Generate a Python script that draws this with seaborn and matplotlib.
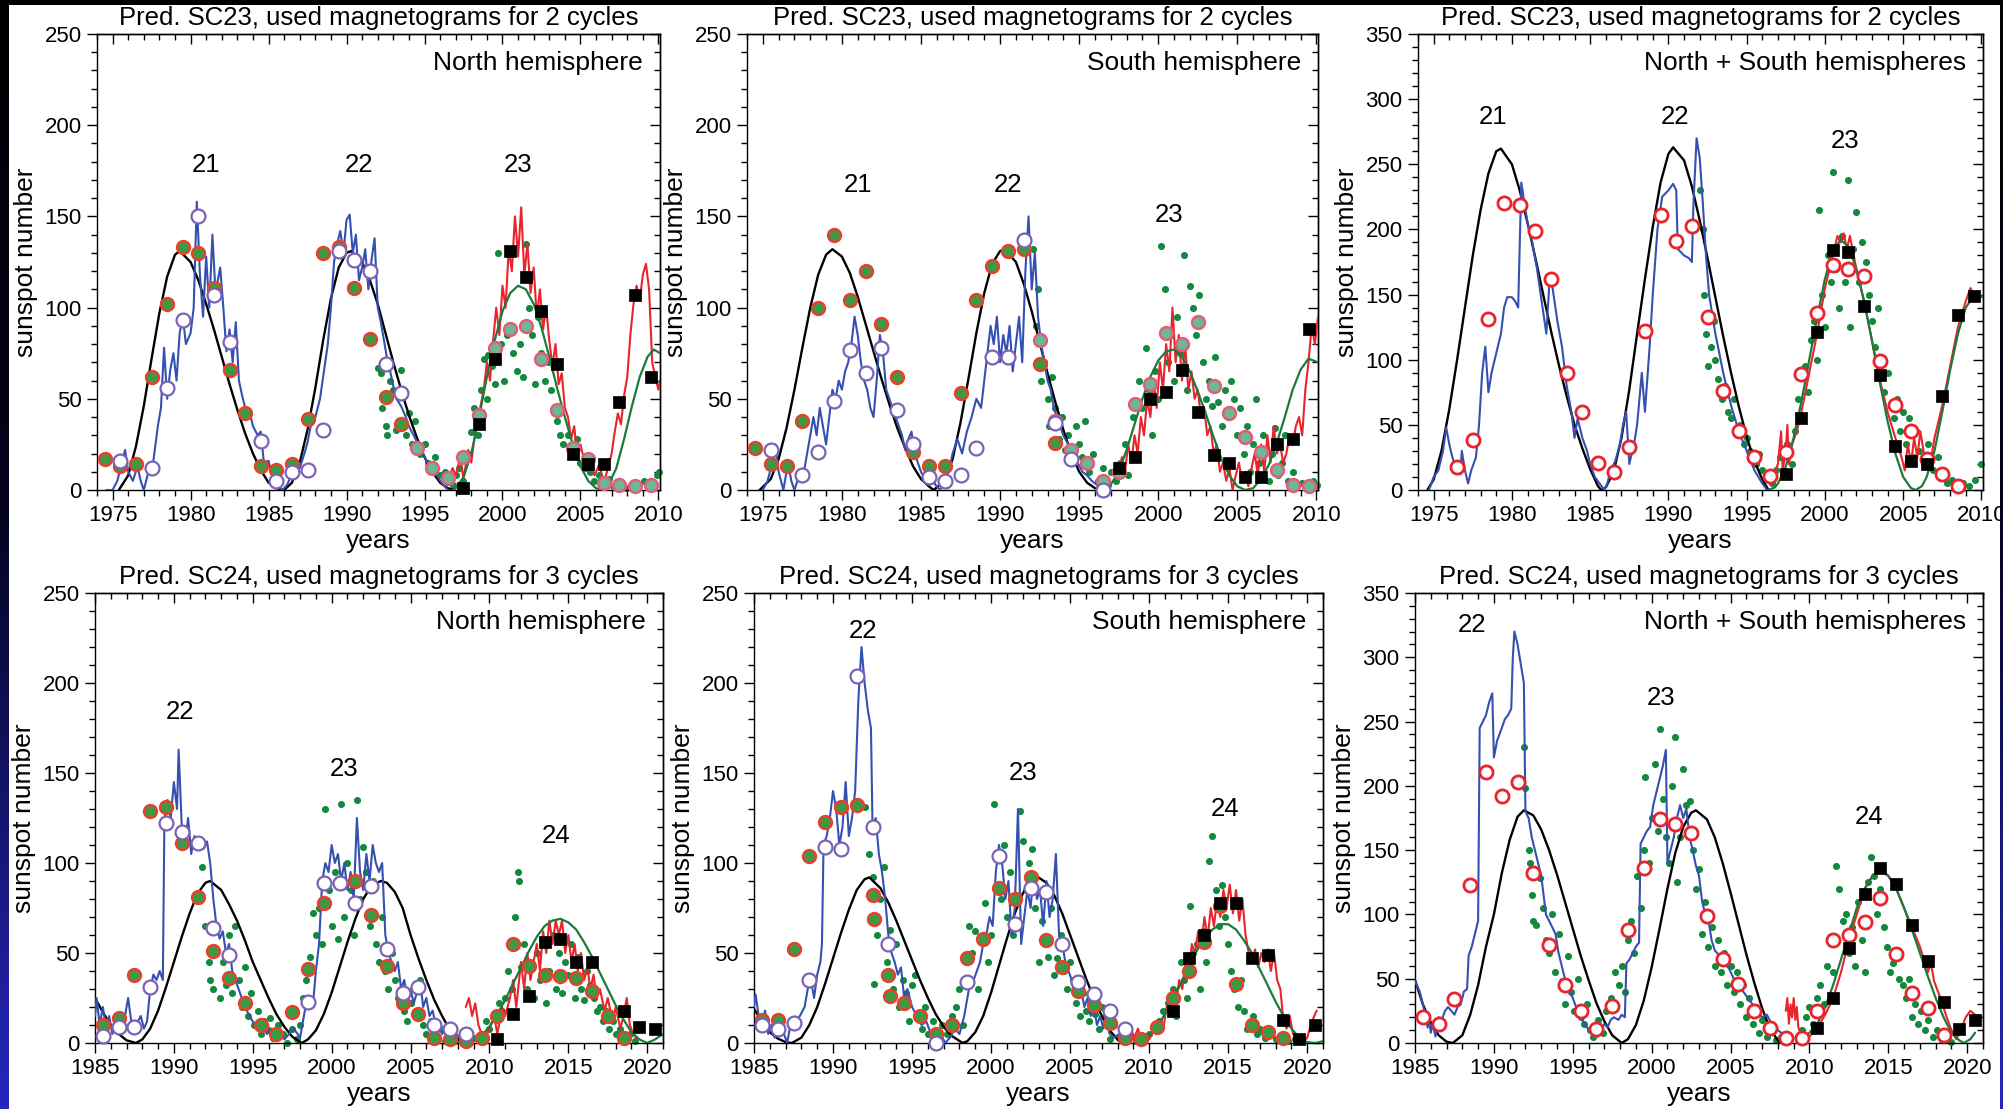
import numpy as np
import matplotlib
matplotlib.use("Agg")
import matplotlib.pyplot as plt
import seaborn as sns
from matplotlib.ticker import MultipleLocator, NullFormatter
from matplotlib.colors import LinearSegmentedColormap

# ------------------------------------------------------------------
# Panel 1: SC23 prediction, north hemisphere
# ------------------------------------------------------------------
n23_black = [(1975.4,0),(1976.0,8),(1976.5,24),(1977.0,46),(1977.5,72),(1978.0,97),(1978.5,117),(1979.0,129),(1979.3,131),
             (1980.0,125),(1980.5,115),(1981.0,102),(1981.5,88),(1982.0,73),(1982.5,58),(1983.0,44),(1983.5,31),(1984.0,20),
             (1984.5,11),(1985.0,4),(1985.5,1),(1986.0,0),(1986.5,4),(1987.0,15),(1987.5,33),(1988.0,56),(1988.5,82),
             (1989.0,105),(1989.5,122),(1990.0,130),(1990.3,131),(1991.0,125),(1991.5,115),(1992.0,102),(1992.5,86),
             (1993.0,70),(1993.5,55),(1994.0,41),(1994.5,29),(1995.0,18),(1995.5,10),(1996.0,4),(1996.5,1),(1996.9,0)]
n23_green = [(1996.8,0),(1997.0,1),(1997.5,7),(1998.0,20),(1998.5,40),(1999.0,62),(1999.5,82),(2000.0,98),(2000.5,108),
             (2001.0,112),(2001.5,110),(2002.0,102),(2002.5,89),(2003.0,73),(2003.5,56),(2004.0,40),(2004.5,25),(2005.0,13),
             (2005.5,5),(2006.0,1),(2006.3,0),(2006.8,3),(2007.3,12),(2007.8,28),(2008.3,46),(2008.8,62),(2009.3,73),
             (2009.7,77),(2010.1,75)]
n23_blue = [(1974.6,0),(1975.0,0),(1975.3,5),(1975.6,15),(1975.8,22),(1976.0,10),(1976.3,5),(1976.6,13),(1976.8,5),(1977.0,0),
            (1977.3,10),(1977.6,15),(1977.9,35),(1978.1,45),(1978.3,78),(1978.5,50),(1978.7,66),(1978.9,75),(1979.1,60),
            (1979.3,86),(1979.5,95),(1979.7,80),(1980.0,86),(1980.2,100),(1980.4,158),(1980.6,118),(1980.8,95),(1981.0,128),
            (1981.2,100),(1981.4,140),(1981.6,108),(1981.9,122),(1982.1,100),(1982.3,76),(1982.5,88),(1982.7,70),(1982.9,92),
            (1983.1,60),(1983.3,52),(1983.5,45),(1983.8,42),(1984.0,35),(1984.3,30),(1984.5,32),(1984.7,15),(1985.0,16),
            (1985.3,5),(1985.6,2),(1985.9,0),(1986.2,3),(1986.5,9),(1986.8,15),(1987.0,12),(1987.3,20),(1987.5,26),
            (1987.7,35),(1988.0,40),(1988.3,50),(1988.5,62),(1988.8,80),(1989.0,100),(1989.2,125),(1989.4,135),(1989.6,142),
            (1989.8,130),(1990.0,148),(1990.2,151),(1990.4,130),(1990.6,140),(1990.8,115),(1991.0,122),(1991.2,132),
            (1991.4,110),(1991.6,126),(1991.8,138),(1992.0,100),(1992.2,92),(1992.4,82),(1992.6,72),(1992.8,65),(1993.0,57),
            (1993.2,50),(1993.5,46),(1993.8,40),(1994.0,35),(1994.3,30),(1994.6,25),(1994.9,20),(1995.2,15),(1995.5,10),
            (1995.8,8),(1996.0,5),(1996.3,2),(1996.5,0)]
n23_red = [(1996.5,5),(1996.8,12),(1997.0,8),(1997.3,18),(1997.5,6),(1997.8,22),(1998.0,15),(1998.3,35),(1998.5,42),
           (1998.8,55),(1999.0,70),(1999.2,60),(1999.4,82),(1999.6,100),(1999.8,85),(2000.0,112),(2000.2,100),(2000.4,132),
           (2000.6,120),(2000.8,150),(2001.0,128),(2001.2,155),(2001.4,118),(2001.6,135),(2001.8,108),(2002.0,122),
           (2002.2,95),(2002.4,110),(2002.6,88),(2002.8,100),(2003.0,82),(2003.2,68),(2003.4,80),(2003.6,58),(2003.8,64),
           (2004.0,45),(2004.2,40),(2004.4,28),(2004.6,35),(2004.8,18),(2005.0,25),(2005.3,14),(2005.6,18),(2005.9,8),
           (2006.2,14),(2006.5,4),(2006.7,10),(2007.0,20),(2007.2,32),(2007.4,42),(2007.6,36),(2007.8,52),(2008.0,62),
           (2008.2,85),(2008.4,102),(2008.6,112),(2008.8,104),(2009.0,118),(2009.2,124),(2009.4,110),(2009.6,70),
           (2009.8,62),(2010.0,55),(2010.1,60)]
n23_dots = [(1992.0,67),(1992.2,64),(1992.3,45),(1992.5,35),(1992.6,30),(1992.8,60),(1993.0,55),(1993.2,33),(1993.5,66),
            (1993.8,30),(1994.0,42),(1994.2,25),(1994.4,38),(1994.7,20),(1995.0,25),(1995.2,15),(1995.5,12),(1995.7,18),
            (1996.0,8),(1996.3,10),(1996.5,5),(1996.8,3),(1997.0,8),(1997.2,12),(1997.5,5),(1997.8,20),(1998.0,32),
            (1998.2,45),(1998.4,30),(1998.6,55),(1998.8,72),(1999.0,50),(1999.1,74),(1999.3,68),(1999.5,58),(1999.7,130),
            (1999.9,80),(2000.1,60),(2000.3,85),(2000.5,90),(2000.7,75),(2000.9,65),(2001.1,80),(2001.3,62),(2001.5,135),
            (2001.7,100),(2001.9,85),(2002.1,58),(2002.3,95),(2002.5,75),(2002.7,60),(2002.9,70),(2003.1,55),(2003.3,45),
            (2003.5,38),(2003.7,30),(2003.9,25),(2004.2,30),(2004.5,20),(2004.8,28),(2005.0,15),(2005.3,12),(2005.6,10),
            (2005.9,5),(2006.2,8),(2006.5,3),(2006.8,6),(2007.1,2),(2007.5,4),(2007.9,1),(2008.3,3),(2008.7,2),(2009.1,5),
            (2009.5,3),(2009.9,8),(2010.05,10)]
n23_filled = [(1974.5,17),(1975.5,13),(1976.5,14),(1977.5,62),(1978.5,102),(1979.5,133),(1980.5,130),(1981.5,111),
              (1982.5,66),(1983.5,42),(1984.5,13),(1985.5,11),(1986.5,14),(1987.5,39),(1988.5,130),(1989.5,133),
              (1990.5,111),(1991.5,83),(1992.5,51),(1993.5,36)]
n23_pale = [(1994.5,23),(1995.5,12),(1996.5,6.5),(1997.5,18),(1998.5,41),(1999.5,78),(2000.5,88),(2001.5,90),(2002.5,72),
            (2003.5,44),(2004.5,23),(2005.5,17),(2006.5,4),(2007.5,2.5),(2008.5,2),(2009.5,2.5)]
n23_open = [(1975.5,16),(1977.5,12),(1978.5,56),(1979.5,93),(1980.5,150),(1981.5,107),(1982.5,81),(1984.5,27),(1985.5,5),
            (1986.5,10),(1987.5,11),(1988.5,33),(1989.5,131),(1990.5,126),(1991.5,120),(1992.5,69),(1993.5,53)]
n23_squares = [(1997.5,1),(1998.5,36),(1999.5,72),(2000.5,131),(2001.5,117),(2002.5,98),(2003.5,69),(2004.5,20),
               (2005.5,14),(2006.5,14),(2007.5,48),(2008.5,107),(2009.5,62)]
n23_cycles = [("21", 1981.0, 178), ("22", 1990.8, 178), ("23", 2001.0, 178)]

# ------------------------------------------------------------------
# Panel 2: SC23 prediction, south hemisphere
# ------------------------------------------------------------------
s23_black = [(1974.8,0),(1975.5,6),(1976.0,17),(1976.5,34),(1977.0,55),(1977.5,78),(1978.0,100),(1978.5,118),(1979.0,129),
             (1979.4,132),(1980.0,128),(1980.5,119),(1981.0,106),(1981.5,91),(1982.0,76),(1982.5,61),(1983.0,47),
             (1983.5,34),(1984.0,23),(1984.5,13),(1985.0,6),(1985.5,2),(1985.8,0),(1986.5,5),(1987.0,17),(1987.5,37),
             (1988.0,61),(1988.5,86),(1989.0,108),(1989.5,124),(1990.0,131),(1990.3,132),(1991.0,125),(1991.5,113),
             (1992.0,98),(1992.5,81),(1993.0,64),(1993.5,48),(1994.0,33),(1994.5,20),(1995.0,10),(1995.5,4),(1996.0,1),
             (1996.4,0)]
s23_green = [(1996.4,0),(1996.8,1),(1997.0,3),(1997.5,10),(1998.0,22),(1998.5,36),(1999.0,50),(1999.5,62),(2000.0,71),
             (2000.5,76),(2001.0,77),(2001.5,73),(2002.0,65),(2002.5,54),(2003.0,42),(2003.5,29),(2004.0,17),(2004.5,8),
             (2005.0,2),(2005.5,0),(2006.0,1),(2006.5,6),(2007.0,14),(2007.5,26),(2008.0,40),(2008.5,55),(2009.0,66),
             (2009.5,72),(2010.1,70)]
s23_blue = [(1975.0,0),(1975.3,5),(1975.6,15),(1975.8,25),(1976.0,10),(1976.3,0),(1976.6,15),(1976.8,5),(1977.0,0),
            (1977.3,8),(1977.6,10),(1977.9,25),(1978.2,40),(1978.4,30),(1978.6,45),(1978.8,35),(1979.0,25),(1979.2,40),
            (1979.4,55),(1979.6,50),(1979.8,60),(1980.0,55),(1980.2,65),(1980.4,70),(1980.6,80),(1980.8,95),(1981.0,85),
            (1981.2,70),(1981.4,60),(1981.6,55),(1981.8,45),(1982.0,40),(1982.2,60),(1982.4,85),(1982.6,75),(1982.8,55),
            (1983.0,50),(1983.2,45),(1983.4,40),(1983.6,35),(1983.8,30),(1984.0,22),(1984.2,28),(1984.4,32),(1984.6,20),
            (1984.8,15),(1985.0,10),(1985.3,5),(1985.6,12),(1985.9,3),(1986.2,0),(1986.5,5),(1986.8,12),(1987.0,20),
            (1987.3,28),(1987.6,20),(1987.9,32),(1988.2,40),(1988.5,50),(1988.8,45),(1989.0,60),(1989.2,75),(1989.4,90),
            (1989.6,80),(1989.8,95),(1990.0,70),(1990.2,85),(1990.4,75),(1990.6,90),(1990.8,65),(1991.0,80),(1991.2,95),
            (1991.4,70),(1991.6,120),(1991.8,150),(1992.0,110),(1992.2,130),(1992.4,95),(1992.6,80),(1992.8,70),
            (1993.0,60),(1993.2,55),(1993.4,45),(1993.6,40),(1993.8,35),(1994.0,30),(1994.3,25),(1994.6,20),(1994.9,15),
            (1995.2,10),(1995.5,8),(1995.8,5),(1996.1,3),(1996.4,0)]
s23_red = [(1997.3,15),(1997.5,8),(1997.7,18),(1997.9,10),(1998.1,25),(1998.3,15),(1998.5,30),(1998.7,20),(1998.9,40),
           (1999.1,30),(1999.3,50),(1999.5,40),(1999.7,60),(1999.9,45),(2000.1,70),(2000.3,55),(2000.5,80),(2000.7,65),
           (2000.9,100),(2001.1,70),(2001.3,85),(2001.5,60),(2001.7,80),(2001.9,55),(2002.1,65),(2002.3,50),(2002.5,55),
           (2002.7,40),(2002.9,45),(2003.1,30),(2003.3,35),(2003.5,20),(2003.7,25),(2003.9,10),(2004.1,15),(2004.3,5),
           (2004.5,12),(2004.7,0),(2004.9,8),(2005.1,15),(2005.3,5),(2005.5,10),(2005.7,2),(2005.9,12),(2006.1,20),
           (2006.3,8),(2006.5,25),(2006.7,10),(2006.9,30),(2007.1,15),(2007.3,35),(2007.5,20),(2007.7,25),(2007.9,15),
           (2008.1,20),(2008.3,30),(2008.5,25),(2008.7,35),(2008.9,40),(2009.1,30),(2009.3,55),(2009.5,70),(2009.7,90),
           (2009.9,80),(2010.1,95)]
s23_dots = [(1992.1,132),(1992.3,90),(1992.4,110),(1992.6,60),(1992.8,70),(1993.0,50),(1993.1,35),(1993.3,62),(1993.5,45),
            (1993.7,28),(1993.9,40),(1994.1,22),(1994.3,30),(1994.5,15),(1994.8,35),(1995.0,25),(1995.2,18),(1995.4,38),
            (1995.6,10),(1995.9,20),(1996.2,5),(1996.5,12),(1996.8,3),(1997.0,10),(1997.3,5),(1997.6,15),(1997.9,25),
            (1998.1,8),(1998.4,40),(1998.6,20),(1998.8,60),(1999.0,45),(1999.2,78),(1999.4,55),(1999.6,30),(1999.8,65),
            (2000.0,50),(2000.2,134),(2000.4,110),(2000.6,70),(2000.8,85),(2001.0,60),(2001.2,95),(2001.4,75),(2001.6,129),
            (2001.8,55),(2002.0,112),(2002.2,100),(2002.4,85),(2002.6,107),(2002.8,70),(2003.0,50),(2003.2,60),(2003.4,46),
            (2003.6,73),(2003.8,48),(2004.0,35),(2004.2,55),(2004.4,40),(2004.6,60),(2004.8,50),(2005.0,30),(2005.2,45),
            (2005.4,20),(2005.6,35),(2005.8,10),(2006.0,25),(2006.2,50),(2006.4,15),(2006.6,30),(2006.8,22),(2007.0,5),
            (2007.2,20),(2007.4,34),(2007.6,8),(2007.8,15),(2008.0,30),(2008.2,5),(2008.5,10),(2008.8,2),(2009.1,4),
            (2009.4,1),(2009.8,5),(2010.05,3)]
s23_filled = [(1974.5,23),(1975.5,14),(1976.5,13),(1977.5,38),(1978.5,100),(1979.5,140),(1980.5,104),(1981.5,120),
              (1982.5,91),(1983.5,62),(1984.5,21),(1985.5,13),(1986.5,13),(1987.5,53),(1988.5,104),(1989.5,123),
              (1990.5,131),(1991.5,132),(1992.5,69),(1993.5,26)]
s23_pale = [(1992.5,82),(1993.5,38),(1994.5,22),(1995.5,15),(1996.5,5),(1997.5,10),(1998.5,47),(1999.5,58),(2000.5,86),
            (2001.5,80),(2002.5,92),(2003.5,57),(2004.5,42),(2005.5,29),(2006.5,21),(2007.5,11),(2008.5,3),(2009.5,2)]
s23_open = [(1975.5,22),(1977.5,8),(1978.5,21),(1979.5,49),(1980.5,77),(1981.5,64),(1982.5,78),(1983.5,44),(1984.5,25),
            (1985.5,7),(1986.5,5),(1987.5,8),(1988.5,23),(1989.5,73),(1990.5,73),(1991.5,137),(1993.5,37),(1994.5,17),
            (1996.5,0)]
s23_squares = [(1997.5,12),(1998.5,18),(1999.5,50),(2000.5,54),(2001.5,66),(2002.5,43),(2003.5,19),(2004.5,15),
               (2005.5,7),(2006.5,7),(2007.5,25),(2008.5,28),(2009.5,88)]
s23_cycles = [("21", 1981.0, 167), ("22", 1990.5, 167), ("23", 2000.7, 151)]

# ------------------------------------------------------------------
# Panel 3: SC23 prediction, both hemispheres
# ------------------------------------------------------------------
ns23_black = [(1974.6,0),(1975.0,8),(1975.5,30),(1976.0,62),(1976.5,100),(1977.0,140),(1977.5,180),(1978.0,215),
              (1978.5,243),(1979.0,260),(1979.3,262),(1980.0,250),(1980.5,230),(1981.0,205),(1981.5,178),(1982.0,150),
              (1982.5,122),(1983.0,96),(1983.5,72),(1984.0,50),(1984.5,32),(1985.0,16),(1985.5,3),(1985.7,0),(1986.0,2),
              (1986.5,14),(1987.0,40),(1987.5,77),(1988.0,120),(1988.5,162),(1989.0,202),(1989.5,236),(1990.0,258),
              (1990.3,263),(1991.0,253),(1991.5,233),(1992.0,207),(1992.5,178),(1993.0,148),(1993.5,118),(1994.0,90),
              (1994.5,64),(1995.0,41),(1995.5,22),(1996.0,8),(1996.4,0)]
ns23_green = [(1996.4,0),(1996.8,2),(1997.0,5),(1997.5,18),(1998.0,40),(1998.5,68),(1999.0,100),(1999.5,132),(2000.0,162),
              (2000.5,183),(2001.0,192),(2001.5,187),(2002.0,170),(2002.5,145),(2003.0,115),(2003.5,83),(2004.0,53),
              (2004.5,28),(2005.0,10),(2005.5,1.5),(2005.8,0),(2006.2,3),(2006.5,10),(2007.0,30),(2007.5,60),(2008.0,92),
              (2008.5,120),(2009.0,140),(2009.5,149),(2010.1,148)]
ns23_blue = [(1974.7,0),(1975.0,10),(1975.3,15),(1975.6,30),(1975.8,48),(1976.0,35),(1976.2,25),(1976.5,15),(1976.7,12),
             (1976.8,30),(1977.0,15),(1977.2,5),(1977.4,15),(1977.7,25),(1977.9,50),(1978.1,90),(1978.3,110),(1978.5,75),
             (1978.7,90),(1978.9,100),(1979.1,110),(1979.3,120),(1979.5,140),(1979.7,148),(1980.0,148),(1980.2,145),
             (1980.4,140),(1980.6,236),(1980.8,220),(1981.0,205),(1981.3,190),(1981.6,170),(1981.9,145),(1982.2,120),
             (1982.4,160),(1982.6,155),(1982.9,130),(1983.2,110),(1983.5,80),(1983.8,60),(1984.0,40),(1984.2,55),
             (1984.5,40),(1984.8,30),(1985.0,20),(1985.3,10),(1985.6,5),(1985.9,0),(1986.1,5),(1986.3,15),(1986.6,22),
             (1986.9,35),(1987.1,50),(1987.3,60),(1987.5,20),(1987.8,35),(1988.0,50),(1988.3,90),(1988.5,60),(1988.8,110),
             (1989.0,150),(1989.3,200),(1989.6,225),(1990.0,230),(1990.3,235),(1990.5,230),(1990.6,185),(1991.0,180),
             (1991.3,178),(1991.5,175),(1991.6,220),(1991.8,270),(1992.0,255),(1992.2,220),(1992.4,180),(1992.6,150),
             (1993.0,120),(1993.5,90),(1994.0,65),(1994.5,45),(1995.0,30),(1995.5,15),(1996.0,5),(1996.3,0)]
ns23_red = [(1996.5,5),(1997.0,20),(1997.2,45),(1997.3,15),(1997.5,30),(1997.6,50),(1997.7,20),(1997.9,35),(1998.2,45),
            (1998.5,60),(1999.0,90),(1999.5,120),(2000.0,155),(2000.5,180),(2000.8,195),(2001.0,190),(2001.2,197),
            (2001.4,185),(2001.6,195),(2002.0,170),(2002.5,145),(2003.0,115),(2003.5,85),(2004.0,60),(2004.5,40),
            (2004.9,25),(2005.1,15),(2005.3,35),(2005.5,20),(2005.7,40),(2005.9,25),(2006.1,45),(2006.3,30),(2006.5,20),
            (2006.8,25),(2007.0,40),(2007.5,65),(2008.0,95),(2008.5,125),(2009.0,145),(2009.3,155),(2009.5,150),
            (2009.8,150),(2010.1,148)]
ns23_dots = [(1992.0,230),(1992.2,200),(1992.3,150),(1992.4,120),(1992.5,95),(1992.7,110),(1992.9,130),(1993.0,100),
             (1993.2,85),(1993.4,70),(1993.6,80),(1993.8,60),(1994.0,55),(1994.2,70),(1994.4,45),(1994.6,50),(1994.8,35),
             (1995.0,40),(1995.2,30),(1995.4,25),(1995.6,20),(1995.8,28),(1996.0,15),(1996.3,10),(1996.6,5),(1996.9,15),
             (1997.1,25),(1997.3,12),(1997.6,35),(1997.9,20),(1998.1,45),(1998.3,70),(1998.5,55),(1998.7,95),(1998.9,75),
             (1999.1,115),(1999.3,130),(1999.5,100),(1999.6,215),(1999.8,150),(2000.0,125),(2000.2,180),(2000.4,160),
             (2000.5,244),(2000.7,170),(2000.9,140),(2001.1,195),(2001.3,160),(2001.5,238),(2001.6,125),(2001.8,185),
             (2002.0,213),(2002.2,160),(2002.4,190),(2002.6,175),(2002.8,150),(2003.0,130),(2003.2,110),(2003.4,140),
             (2003.6,100),(2003.8,75),(2004.0,90),(2004.2,65),(2004.4,55),(2004.6,70),(2004.8,45),(2005.0,60),(2005.2,35),
             (2005.4,55),(2005.6,25),(2005.8,45),(2006.0,30),(2006.3,20),(2006.6,35),(2006.9,15),(2007.2,25),(2007.5,10),
             (2007.8,5),(2008.1,8),(2008.4,2),(2008.8,5),(2009.2,3),(2009.6,8),(2010.0,20)]
ns23_open = [(1976.5,18),(1977.5,38),(1978.5,131),(1979.5,220),(1980.5,219),(1981.5,199),(1982.5,162),(1983.5,90),
             (1984.5,60),(1985.5,21),(1986.5,14),(1987.5,33),(1988.5,122),(1989.5,211),(1990.5,191),(1991.5,203),
             (1992.5,133),(1993.5,76),(1994.5,45),(1995.5,25),(1996.5,11),(1997.5,29),(1998.5,89),(1999.5,136),
             (2000.5,173),(2001.5,170),(2002.5,164),(2003.5,99),(2004.5,65),(2005.5,45),(2006.5,24),(2007.5,12),(2008.5,3)]
ns23_squares = [(1997.5,12),(1998.5,55),(1999.5,121),(2000.5,184),(2001.5,183),(2002.5,141),(2003.5,88),(2004.5,34),
                (2005.5,22),(2006.5,20),(2007.5,72),(2008.5,134),(2009.5,149)]
ns23_cycles = [("21", 1978.8, 286), ("22", 1990.4, 286), ("23", 2001.3, 268)]

# ------------------------------------------------------------------
# Panel 4: SC24 prediction, north hemisphere
# ------------------------------------------------------------------
n24_black = [(1985.0,25),(1985.5,17),(1986.0,10),(1986.5,5),(1987.0,1.5),(1987.6,0),(1988.0,2),(1988.5,8),(1989.0,18),
             (1989.5,31),(1990.0,45),(1990.5,59),(1991.0,72),(1991.5,83),(1992.0,89),(1992.3,90),(1993.0,85),(1993.5,77),
             (1994.0,68),(1994.5,57),(1995.0,45),(1995.5,35),(1996.0,25),(1996.5,16),(1997.0,9),(1997.5,3.5),(1998.1,0),
             (1998.5,2),(1999.0,7),(1999.5,16),(2000.0,28),(2000.5,42),(2001.0,56),(2001.5,69),(2002.0,80),(2002.5,87),
             (2003.1,90),(2003.5,89),(2004.0,84),(2004.5,75),(2005.0,60),(2005.5,47),(2006.0,35),(2006.5,24),(2007.0,15),
             (2007.5,7),(2008.0,2),(2008.4,0)]
n24_green = [(2008.5,0),(2009.0,1),(2009.5,4),(2010.0,9),(2010.5,16),(2011.0,24),(2011.5,33),(2012.0,42),(2012.5,51),
             (2013.0,59),(2013.5,65),(2014.0,68),(2014.5,69),(2015.0,67),(2015.5,63),(2016.0,56),(2016.5,48),(2017.0,39),
             (2017.5,30),(2018.0,21),(2018.5,13),(2019.0,6),(2019.5,2),(2020.0,0),(2020.5,2),(2021.0,5)]
n24_blue = [(1985.0,15),(1985.1,25),(1985.3,10),(1985.5,20),(1985.7,8),(1985.9,15),(1986.1,5),(1986.3,12),(1986.6,8),
            (1986.9,15),(1987.1,25),(1987.3,12),(1987.6,10),(1987.9,15),(1988.1,8),(1988.3,12),(1988.5,30),(1988.7,38),
            (1988.9,35),(1989.1,40),(1989.3,35),(1989.4,125),(1989.6,135),(1989.8,125),(1990.0,145),(1990.2,130),
            (1990.3,163),(1990.5,120),(1990.7,110),(1990.9,125),(1991.1,105),(1991.3,115),(1991.5,110),(1991.7,112),
            (1991.9,108),(1992.1,112),(1992.3,100),(1992.5,80),(1992.7,65),(1992.9,58),(1993.1,62),(1993.3,50),(1993.5,55),
            (1993.7,40),(1993.9,35),(1994.1,30),(1994.3,25),(1994.5,20),(1994.8,15),(1995.0,12),(1995.3,8),(1995.6,10),
            (1995.9,5),(1996.2,8),(1996.5,3),(1996.8,6),(1997.0,2),(1997.3,5),(1997.6,8),(1998.0,3),(1998.3,18),
            (1998.5,25),(1998.8,20),(1999.0,40),(1999.2,55),(1999.4,90),(1999.6,100),(1999.8,95),(2000.0,110),(2000.2,100),
            (2000.4,105),(2000.6,90),(2000.8,100),(2001.0,85),(2001.2,95),(2001.4,80),(2001.6,125),(2001.8,95),
            (2002.0,85),(2002.2,105),(2002.4,90),(2002.6,110),(2002.8,100),(2003.0,95),(2003.2,100),(2003.4,60),
            (2003.6,50),(2003.8,45),(2004.0,40),(2004.2,45),(2004.4,30),(2004.6,35),(2004.8,25),(2005.0,30),(2005.2,22),
            (2005.4,28),(2005.6,35),(2005.8,20),(2006.0,25),(2006.2,15),(2006.4,18),(2006.6,10),(2006.8,12),(2007.0,5),
            (2007.3,8),(2007.6,3),(2007.9,5),(2008.2,2),(2008.5,0)]
n24_red = [(2008.5,20),(2008.7,25),(2008.9,15),(2009.1,22),(2009.3,10),(2009.5,5),(2009.7,2),(2010.0,8),(2010.3,15),
           (2010.5,5),(2010.8,20),(2011.0,15),(2011.3,25),(2011.5,35),(2011.7,20),(2012.0,45),(2012.2,30),(2012.4,50),
           (2012.6,35),(2012.8,45),(2013.0,55),(2013.2,40),(2013.4,62),(2013.6,50),(2013.8,68),(2014.0,55),(2014.2,68),
           (2014.4,60),(2014.6,68),(2014.8,50),(2015.0,60),(2015.2,45),(2015.4,55),(2015.6,40),(2015.8,50),(2016.0,35),
           (2016.2,42),(2016.4,30),(2016.6,38),(2016.8,25),(2017.0,30),(2017.3,18),(2017.5,25),(2017.8,12),(2018.0,20),
           (2018.3,8),(2018.5,15),(2018.7,25),(2018.9,10),(2019.1,5),(2019.4,2)]
n24_dots = [(1991.8,98),(1992.0,65),(1992.2,45),(1992.3,35),(1992.5,30),(1992.7,62),(1992.9,25),(1993.1,45),(1993.3,32),
            (1993.5,60),(1993.7,28),(1993.9,65),(1994.1,35),(1994.3,20),(1994.5,42),(1994.7,15),(1994.9,28),(1995.1,10),
            (1995.3,18),(1995.5,5),(1995.7,12),(1995.9,8),(1996.1,14),(1996.3,3),(1996.6,10),(1996.9,5),(1997.2,0),
            (1997.5,8),(1997.8,2),(1998.0,10),(1998.2,25),(1998.4,35),(1998.6,48),(1998.8,72),(1999.0,60),(1999.2,75),
            (1999.4,55),(1999.6,130),(1999.8,85),(2000.0,65),(2000.2,95),(2000.4,58),(2000.6,133),(2000.8,70),(2001.0,100),
            (2001.2,85),(2001.4,60),(2001.6,135),(2001.8,80),(2002.0,109),(2002.2,95),(2002.4,65),(2002.6,90),(2002.8,55),
            (2003.0,45),(2003.2,70),(2003.4,40),(2003.6,30),(2003.8,50),(2004.0,35),(2004.2,25),(2004.4,30),(2004.6,18),
            (2004.8,12),(2005.0,22),(2005.2,30),(2005.4,15),(2005.6,35),(2005.8,10),(2006.0,5),(2006.3,12),(2006.6,3),
            (2006.9,8),(2007.2,1),(2007.5,4),(2007.8,1),(2008.2,3),(2008.6,1),(2009.0,3),(2009.5,5),(2009.8,12),(2010.0,8),
            (2010.3,15),(2010.6,22),(2010.8,18),(2011.0,25),(2011.2,40),(2011.4,30),(2011.5,55),(2011.6,70),(2011.8,95),
            (2011.9,90),(2012.0,42),(2012.2,55),(2012.4,30),(2012.6,45),(2012.8,25),(2013.0,50),(2013.2,35),(2013.4,55),
            (2013.6,22),(2013.8,40),(2014.0,60),(2014.2,30),(2014.4,50),(2014.6,28),(2014.8,45),(2015.0,38),(2015.2,55),
            (2015.4,25),(2015.6,48),(2015.8,30),(2016.0,24),(2016.2,40),(2016.4,32),(2016.6,25),(2016.8,18),(2017.0,20),
            (2017.2,12),(2017.4,18),(2017.6,8),(2017.8,12),(2018.0,5),(2018.3,8),(2018.6,2),(2018.9,5),(2019.2,1)]
n24_filled = [(1985.5,10),(1986.5,14),(1987.5,38),(1988.5,129),(1989.5,131),(1990.5,111),(1991.5,81),(1992.5,51),
              (1993.5,36),(1994.5,22),(1995.5,10),(1996.5,5),(1997.5,17),(1998.5,41),(1999.5,78),(2000.5,89),(2001.5,90),
              (2002.5,71),(2003.5,43),(2004.5,22),(2005.5,16),(2006.5,3),(2007.5,2),(2008.5,1),(2009.5,3),(2010.5,15),
              (2011.5,55),(2012.5,43),(2013.5,38),(2014.5,37),(2015.5,36),(2016.5,29),(2017.5,15),(2018.5,3)]
n24_open = [(1985.5,4),(1986.5,9),(1987.5,9),(1988.5,31),(1989.5,122),(1990.5,117),(1991.5,111),(1992.5,64),(1993.5,49),
            (1998.5,23),(1999.5,89),(2000.5,89),(2001.5,78),(2002.5,87),(2003.5,52),(2004.5,28),(2005.5,31),(2006.5,10),
            (2007.5,8),(2008.5,5)]
n24_squares = [(2010.5,2),(2011.5,16),(2012.5,26),(2013.5,56),(2014.5,58),(2015.5,45),(2016.5,45),(2018.5,18),
               (2019.5,9),(2020.5,8)]
n24_cycles = [("22", 1990.4, 184), ("23", 2000.8, 152), ("24", 2014.2, 115)]

# ------------------------------------------------------------------
# Panel 5: SC24 prediction, south hemisphere
# ------------------------------------------------------------------
s24_black = [(1985.0,19),(1985.5,12),(1986.0,6),(1986.5,2.5),(1987.0,0.5),(1987.4,0),(1988.0,3),(1988.5,10),(1989.0,20),
             (1989.5,33),(1990.0,47),(1990.5,61),(1991.0,74),(1991.5,85),(1992.0,91),(1992.3,92),(1993.0,86),(1993.5,78),
             (1994.0,68),(1994.5,57),(1995.0,46),(1995.5,35),(1996.0,25),(1996.5,16),(1997.0,9),(1997.5,4),(1998.2,0),
             (1998.5,1),(1999.0,6),(1999.5,15),(2000.0,28),(2000.5,43),(2001.0,58),(2001.5,72),(2002.0,83),(2002.5,90),
             (2003.0,92),(2003.5,89),(2004.0,82),(2004.5,72),(2005.0,60),(2005.5,48),(2006.0,36),(2006.5,25),(2007.0,15),
             (2007.5,7),(2008.0,2),(2008.4,0)]
s24_green = [(2009.3,0),(2009.5,1),(2010.0,4),(2010.5,9),(2011.0,16),(2011.5,24),(2012.0,33),(2012.5,42),(2013.0,51),
             (2013.5,58),(2014.0,63),(2014.5,66),(2015.0,66),(2015.5,63),(2016.0,57),(2016.5,50),(2017.0,41),(2017.5,32),
             (2018.0,23),(2018.5,15),(2019.0,8),(2019.5,3),(2020.0,0.5),(2020.5,0),(2021.0,1)]
s24_blue = [(1985.0,20),(1985.1,27),(1985.3,15),(1985.5,10),(1985.7,18),(1985.9,5),(1986.1,10),(1986.3,3),(1986.6,8),
            (1986.9,5),(1987.1,0),(1987.3,10),(1987.6,12),(1987.9,15),(1988.2,20),(1988.4,30),(1988.6,35),(1988.8,25),
            (1989.0,38),(1989.2,45),(1989.3,55),(1989.4,110),(1989.6,115),(1989.8,125),(1990.0,140),(1990.2,130),
            (1990.4,110),(1990.6,120),(1990.8,145),(1991.0,115),(1991.2,125),(1991.4,140),(1991.6,190),(1991.8,220),
            (1992.0,200),(1992.2,185),(1992.4,175),(1992.5,120),(1992.7,125),(1992.9,105),(1993.1,95),(1993.3,80),
            (1993.5,60),(1993.7,50),(1993.9,45),(1994.1,38),(1994.3,42),(1994.5,25),(1994.7,30),(1995.0,20),(1995.3,15),
            (1995.6,10),(1995.9,12),(1996.2,5),(1996.5,2),(1996.8,5),(1997.1,0),(1997.4,3),(1997.7,8),(1998.0,5),
            (1998.3,15),(1998.6,30),(1998.9,35),(1999.1,40),(1999.3,45),(1999.5,55),(1999.7,60),(1999.9,70),(2000.1,65),
            (2000.3,95),(2000.5,110),(2000.7,100),(2000.9,80),(2001.1,90),(2001.3,60),(2001.5,75),(2001.7,130),(2001.9,55),
            (2002.1,70),(2002.3,85),(2002.5,75),(2002.7,95),(2002.9,80),(2003.1,85),(2003.3,65),(2003.5,90),(2003.7,70),
            (2003.9,80),(2004.1,105),(2004.3,60),(2004.5,55),(2004.7,45),(2004.9,40),(2005.1,35),(2005.3,30),(2005.5,25),
            (2005.7,30),(2005.9,20),(2006.1,25),(2006.3,15),(2006.5,20),(2006.7,10),(2006.9,15),(2007.1,8),(2007.3,12),
            (2007.5,5),(2007.8,3),(2008.1,5),(2008.4,2),(2008.7,0)]
s24_red = [(2008.5,5),(2008.8,10),(2009.0,2),(2009.3,8),(2009.5,0),(2009.8,5),(2010.0,2),(2010.3,8),(2010.6,12),
           (2010.9,8),(2011.1,20),(2011.3,15),(2011.5,30),(2011.7,22),(2011.9,35),(2012.1,30),(2012.3,45),(2012.5,38),
           (2012.7,55),(2012.9,50),(2013.1,62),(2013.3,55),(2013.5,70),(2013.7,58),(2013.9,75),(2014.1,65),(2014.3,80),
           (2014.5,70),(2014.7,85),(2014.9,75),(2015.1,88),(2015.3,72),(2015.5,85),(2015.7,68),(2015.9,80),(2016.1,60),
           (2016.3,50),(2016.5,45),(2016.7,52),(2016.9,42),(2017.1,50),(2017.3,45),(2017.5,52),(2017.7,40),(2017.9,50),
           (2018.1,35),(2018.3,30),(2018.5,12),(2018.7,8),(2018.9,15),(2019.1,5),(2019.4,2),(2019.7,0),(2020.0,3),
           (2020.3,12),(2020.6,18)]
s24_dots = [(1992.0,131),(1992.3,105),(1992.5,92),(1992.6,33),(1992.8,60),(1993.0,80),(1993.2,98),(1993.4,45),(1993.6,63),
            (1993.8,30),(1994.0,55),(1994.2,20),(1994.4,35),(1994.6,28),(1994.8,12),(1995.0,32),(1995.2,38),(1995.4,15),
            (1995.6,8),(1995.8,20),(1996.0,5),(1996.3,12),(1996.6,2),(1996.9,10),(1997.2,5),(1997.5,15),(1997.8,20),
            (1998.0,30),(1998.2,10),(1998.4,45),(1998.6,65),(1998.8,50),(1999.0,62),(1999.2,30),(1999.4,58),(1999.6,78),
            (1999.8,45),(2000.0,60),(2000.2,133),(2000.4,105),(2000.6,80),(2000.8,110),(2001.0,70),(2001.2,95),(2001.4,60),
            (2001.6,82),(2001.8,129),(2002.0,112),(2002.2,85),(2002.4,100),(2002.6,108),(2002.8,75),(2003.0,45),
            (2003.2,68),(2003.4,55),(2003.6,48),(2003.8,75),(2004.0,38),(2004.2,47),(2004.4,60),(2004.6,40),(2004.8,30),
            (2005.0,45),(2005.2,35),(2005.4,22),(2005.6,15),(2005.8,28),(2006.0,18),(2006.2,12),(2006.4,20),(2006.6,16),
            (2006.8,8),(2007.0,20),(2007.2,15),(2007.5,2),(2007.8,10),(2008.1,3),(2008.4,1),(2008.8,5),(2009.2,1),
            (2009.6,3),(2010.0,5),(2010.3,8),(2010.6,12),(2010.9,18),(2011.2,22),(2011.5,30),(2011.7,15),(2012.0,45),
            (2012.2,35),(2012.4,25),(2012.6,76),(2012.8,50),(2013.0,55),(2013.2,30),(2013.4,62),(2013.6,45),(2013.8,101),
            (2014.0,115),(2014.2,85),(2014.4,65),(2014.6,88),(2014.8,70),(2015.0,55),(2015.2,40),(2015.4,30),(2015.6,20),
            (2015.8,35),(2016.0,18),(2016.2,8),(2016.4,10),(2016.6,15),(2016.8,5),(2017.0,8),(2017.3,3),(2017.6,5),
            (2018.0,2),(2018.4,4),(2018.8,1),(2019.2,2)]
s24_filled = [(1985.5,13),(1986.5,13),(1987.5,52),(1988.5,104),(1989.5,123),(1990.5,131),(1991.5,132),(1992.5,82),
              (1992.6,69),(1993.5,38),(1993.6,26),(1994.5,22),(1995.5,15),(1996.5,5),(1997.5,10),(1998.5,47),(1999.5,58),
              (2000.5,86),(2001.5,80),(2002.5,92),(2003.5,57),(2004.5,42),(2005.5,29),(2006.5,21),(2007.5,11),(2008.5,3),
              (2009.5,2),(2010.5,9),(2011.5,25),(2012.5,40),(2013.5,56),(2014.5,76),(2015.5,33),(2016.5,10),(2017.5,6),
              (2018.5,3)]
s24_open = [(1985.5,10),(1986.5,8),(1987.5,11),(1988.5,35),(1989.5,109),(1990.5,108),(1991.5,204),(1992.5,120),
            (1993.5,55),(1996.5,0),(1998.5,34),(2000.5,104),(2001.5,66),(2002.5,86),(2003.5,84),(2004.5,55),(2005.5,34),
            (2006.5,27),(2007.5,18),(2008.5,8)]
s24_squares = [(2011.5,18),(2012.5,47),(2013.5,60),(2014.5,78),(2015.5,78),(2016.5,47),(2017.5,49),(2018.5,13),
               (2019.5,2),(2020.5,10)]
s24_cycles = [("22", 1991.9, 229), ("23", 2002.0, 150), ("24", 2014.8, 130)]

# ------------------------------------------------------------------
# Panel 6: SC24 prediction, both hemispheres
# ------------------------------------------------------------------
ns24_black = [(1985.0,49),(1985.5,30),(1986.0,16),(1986.5,6),(1987.0,1),(1987.4,0),(1988.0,6),(1988.5,22),(1989.0,45),
              (1989.5,75),(1990.0,100),(1990.5,132),(1991.0,158),(1991.5,176),(1991.9,181),(1992.5,177),(1993.0,166),
              (1993.5,150),(1994.0,131),(1994.5,110),(1995.0,89),(1995.5,68),(1996.0,49),(1996.5,31),(1997.0,17),
              (1997.5,6),(1998.1,0),(1998.5,3),(1999.0,14),(1999.5,33),(2000.0,59),(2000.5,89),(2001.0,120),(2001.5,148),
              (2002.0,168),(2002.5,179),(2002.8,181),(2003.5,174),(2004.0,160),(2004.5,140),(2005.0,117),(2005.5,93),
              (2006.0,69),(2006.5,47),(2007.0,27),(2007.5,11),(2008.0,2),(2008.2,0)]
ns24_green = [(2009.2,0),(2009.5,2),(2010.0,8),(2010.5,15),(2011.0,28),(2011.5,45),(2012.0,65),(2012.5,85),(2013.0,105),
              (2013.5,120),(2014.0,130),(2014.5,134),(2015.0,130),(2015.5,120),(2016.0,105),(2016.5,88),(2017.0,70),
              (2017.5,52),(2018.0,35),(2018.5,20),(2019.0,8),(2019.5,2),(2019.8,0),(2020.2,3),(2020.5,8)]
ns24_blue = [(1985.0,48),(1985.3,40),(1985.5,30),(1985.7,20),(1985.8,12),(1985.9,18),(1986.0,8),(1986.1,15),(1986.3,5),
             (1986.5,20),(1986.7,18),(1986.9,25),(1987.1,28),(1987.3,25),(1987.5,22),(1987.7,28),(1987.9,30),(1988.1,40),
             (1988.3,42),(1988.4,68),(1988.6,75),(1988.8,85),(1989.0,95),(1989.1,245),(1989.3,250),(1989.5,255),
             (1989.7,265),(1989.9,272),(1990.0,222),(1990.2,235),(1990.5,245),(1990.7,252),(1990.9,255),(1991.1,260),
             (1991.2,300),(1991.3,320),(1991.5,310),(1991.7,295),(1991.9,280),(1992.0,180),(1992.2,175),(1992.4,160),
             (1992.6,150),(1992.8,140),(1993.0,130),(1993.2,110),(1993.3,100),(1993.5,95),(1993.7,90),(1993.9,85),
             (1994.1,70),(1994.3,60),(1994.5,50),(1994.8,40),(1995.0,35),(1995.3,25),(1995.6,18),(1995.9,12),(1996.2,8),
             (1996.4,14),(1996.6,5),(1996.8,10),(1997.0,15),(1997.2,12),(1997.4,18),(1997.6,20),(1997.9,18),(1998.1,22),
             (1998.3,20),(1998.4,62),(1998.6,65),(1998.8,70),(1999.0,75),(1999.2,78),(1999.3,155),(1999.5,160),
             (1999.7,165),(1999.9,168),(2000.1,185),(2000.3,195),(2000.5,205),(2000.7,215),(2000.9,228),(2001.0,140),
             (2001.2,150),(2001.4,160),(2001.6,175),(2001.8,185),(2002.0,175),(2002.2,182),(2002.4,160),(2002.6,150),
             (2002.8,138),(2003.0,130),(2003.2,110),(2003.4,100),(2003.6,95),(2003.8,80),(2004.0,72),(2004.3,68),
             (2004.6,62),(2004.9,58),(2005.2,50),(2005.5,45),(2005.8,40),(2006.1,35),(2006.4,30),(2006.7,25),(2007.0,20),
             (2007.3,22),(2007.6,15),(2008.0,10),(2008.5,5)]
ns24_red = [(2008.5,25),(2008.6,35),(2008.7,15),(2008.8,30),(2008.9,20),(2009.0,35),(2009.1,18),(2009.2,28),(2009.3,12),
            (2009.5,5),(2009.8,3),(2010.0,5),(2010.5,12),(2011.0,22),(2011.5,35),(2012.0,55),(2012.5,80),(2013.0,100),
            (2013.5,120),(2014.0,130),(2014.5,135),(2015.0,130),(2015.5,120),(2016.0,105),(2016.5,90),(2017.0,75),
            (2017.5,55),(2017.7,62),(2017.9,48),(2018.3,35),(2018.7,20),(2019.0,10),(2019.3,3),(2019.6,10),(2019.9,20),
            (2020.2,25),(2020.5,22)]
ns24_dots = [(1991.9,230),(1992.0,198),(1992.2,150),(1992.3,140),(1992.4,115),(1992.5,95),(1992.7,92),(1992.9,128),
             (1993.1,105),(1993.3,80),(1993.5,70),(1993.7,100),(1993.9,55),(1994.1,85),(1994.3,48),(1994.5,30),(1994.7,68),
             (1994.9,40),(1995.1,25),(1995.3,50),(1995.5,20),(1995.7,15),(1995.9,30),(1996.1,10),(1996.3,5),(1996.6,18),
             (1996.9,8),(1997.1,25),(1997.4,35),(1997.7,55),(1997.9,45),(1998.1,60),(1998.3,40),(1998.5,80),(1998.7,95),
             (1998.9,70),(1999.1,130),(1999.3,105),(1999.5,150),(1999.6,207),(1999.8,140),(2000.0,175),(2000.2,217),
             (2000.4,165),(2000.5,244),(2000.7,190),(2000.9,160),(2001.1,140),(2001.3,200),(2001.5,238),(2001.6,125),
             (2001.8,160),(2002.0,213),(2002.2,185),(2002.4,188),(2002.6,150),(2002.8,120),(2003.0,135),(2003.2,85),
             (2003.4,110),(2003.6,75),(2003.8,90),(2004.0,60),(2004.2,80),(2004.4,55),(2004.6,70),(2004.8,45),(2005.0,60),
             (2005.2,40),(2005.4,55),(2005.6,30),(2005.8,45),(2006.0,20),(2006.2,35),(2006.4,15),(2006.6,28),(2006.8,8),
             (2007.0,18),(2007.3,5),(2007.6,10),(2007.9,2),(2008.2,5),(2009.5,10),(2009.8,20),(2010.0,28),(2010.2,15),
             (2010.5,35),(2010.7,45),(2010.9,30),(2011.1,60),(2011.3,80),(2011.5,55),(2011.7,138),(2011.9,120),(2012.1,95),
             (2012.3,100),(2012.5,70),(2012.7,90),(2012.9,60),(2013.1,110),(2013.3,80),(2013.5,55),(2013.7,125),
             (2013.9,145),(2014.1,130),(2014.3,100),(2014.5,120),(2014.7,90),(2014.9,75),(2015.1,55),(2015.3,62),
             (2015.5,70),(2015.7,50),(2015.9,45),(2016.1,35),(2016.3,50),(2016.5,20),(2016.7,30),(2016.9,15),(2017.1,25),
             (2017.3,10),(2017.5,18),(2017.8,5),(2018.1,10),(2018.4,2),(2018.7,5),(2019.0,1)]
ns24_open = [(1985.5,20),(1986.5,15),(1987.5,34),(1988.5,123),(1989.5,211),(1990.5,192),(1991.5,203),(1992.5,132),
             (1993.5,76),(1994.5,45),(1995.5,25),(1996.5,11),(1997.5,29),(1998.5,88),(1999.5,136),(2000.5,174),
             (2001.5,170),(2002.5,163),(2003.5,99),(2004.5,65),(2005.5,46),(2006.5,25),(2007.5,12),(2008.5,4),(2009.5,4),
             (2010.5,25),(2011.5,80),(2012.5,84),(2013.5,94),(2014.5,113),(2015.5,69),(2016.5,39),(2017.5,27),(2018.5,6)]
ns24_squares = [(2010.5,12),(2011.5,35),(2012.5,74),(2013.5,116),(2014.5,136),(2015.5,124),(2016.5,92),(2017.5,64),
                (2018.5,32),(2019.5,11),(2020.5,18)]
ns24_cycles = [("22", 1988.6, 325), ("23", 2000.6, 268), ("24", 2013.8, 176)]

title_sc23 = "Pred. SC23, used magnetograms for 2 cycles"
title_sc24 = "Pred. SC24, used magnetograms for 3 cycles"
region_north = "North hemisphere"
region_south = "South hemisphere"
region_both = "North + South hemispheres"

# ------------------------------------------------------------------
# Styling
# ------------------------------------------------------------------
sns.set_theme(style="ticks")
plt.rcParams["font.family"] = ["Liberation Sans", "DejaVu Sans"]
plt.rcParams["axes.linewidth"] = 1.0
plt.rcParams["axes.edgecolor"] = "black"

BLUE = "#3450b0"
RED = "#e8242c"
GREEN_LINE = "#1b7a3c"
GREEN_DOT = "#14883e"
PURPLE = "#7a62b4"

W, H = 2003, 1109


def rect(x0, x1, y0, y1):
    return [x0 / W, 1 - y1 / H, (x1 - x0) / W, (y1 - y0) / H]


def xy(pts):
    a = np.asarray(pts, dtype=float)
    return a[:, 0], a[:, 1]


def draw_line(ax, pts, color, lw, z):
    x, y = xy(pts)
    sns.lineplot(x=x, y=y, ax=ax, color=color, linewidth=lw, estimator=None,
                 sort=False, legend=False, zorder=z)


def draw_marks(ax, pts, **kw):
    x, y = xy(pts)
    sns.scatterplot(x=x, y=y, ax=ax, legend=False, clip_on=False, **kw)


panels = [
    dict(rect=rect(97, 660, 34, 490), xlim=(1974, 2010.1), ylim=(0, 250), title=title_sc23, region=region_north,
         black=n23_black, blue=n23_blue, red=n23_red, green=n23_green, dots=n23_dots, filled=n23_filled,
         pale=n23_pale, open_p=n23_open, open_r=None, squares=n23_squares, cycles=n23_cycles),
    dict(rect=rect(747, 1318, 34, 490), xlim=(1974, 2010.1), ylim=(0, 250), title=title_sc23, region=region_south,
         black=s23_black, blue=s23_blue, red=s23_red, green=s23_green, dots=s23_dots, filled=s23_filled,
         pale=s23_pale, open_p=s23_open, open_r=None, squares=s23_squares, cycles=s23_cycles),
    dict(rect=rect(1418, 1983, 34, 490), xlim=(1974, 2010.1), ylim=(0, 350), title=title_sc23, region=region_both,
         black=ns23_black, blue=ns23_blue, red=ns23_red, green=ns23_green, dots=ns23_dots, filled=None,
         pale=None, open_p=None, open_r=ns23_open, squares=ns23_squares, cycles=ns23_cycles),
    dict(rect=rect(95, 663, 593, 1043), xlim=(1985, 2021), ylim=(0, 250), title=title_sc24, region=region_north,
         black=n24_black, blue=n24_blue, red=n24_red, green=n24_green, dots=n24_dots, filled=n24_filled,
         pale=None, open_p=n24_open, open_r=None, squares=n24_squares, cycles=n24_cycles),
    dict(rect=rect(754, 1323, 593, 1043), xlim=(1985, 2021), ylim=(0, 250), title=title_sc24, region=region_south,
         black=s24_black, blue=s24_blue, red=s24_red, green=s24_green, dots=s24_dots, filled=s24_filled,
         pale=None, open_p=s24_open, open_r=None, squares=s24_squares, cycles=s24_cycles),
    dict(rect=rect(1415, 1983, 593, 1043), xlim=(1985, 2021), ylim=(0, 350), title=title_sc24, region=region_both,
         black=ns24_black, blue=ns24_blue, red=ns24_red, green=ns24_green, dots=ns24_dots, filled=None,
         pale=None, open_p=None, open_r=ns24_open, squares=ns24_squares, cycles=ns24_cycles),
]

fig = plt.figure(figsize=(W / 100, H / 100), dpi=100)
fig.patch.set_facecolor("white")

for p in panels:
    ax = fig.add_axes(p["rect"])
    ax.set_facecolor("white")

    # predicted dots from magnetograms
    draw_marks(ax, p["dots"], s=26, color=GREEN_DOT, linewidth=0, zorder=2)
    # fitted cycle profile, observed hemispheric series and forecast curve
    draw_line(ax, p["black"], "black", 1.7, 3)
    draw_line(ax, p["blue"], BLUE, 1.5, 3.2)
    draw_line(ax, p["red"], RED, 1.5, 3.4)
    draw_line(ax, p["green"], GREEN_LINE, 1.6, 3.6)

    if p["filled"] is not None:
        draw_marks(ax, p["filled"], s=85, color="#3c9a44", edgecolor="#e8402c", linewidth=1.8, zorder=4)
    if p["pale"] is not None:
        draw_marks(ax, p["pale"], s=85, color="#6cb894", edgecolor="#e45c7a", linewidth=1.8, zorder=4)
    if p["open_p"] is not None:
        draw_marks(ax, p["open_p"], s=100, color="white", edgecolor=PURPLE, linewidth=1.6, zorder=4.2)
    if p["open_r"] is not None:
        draw_marks(ax, p["open_r"], s=90, color="white", edgecolor=RED, linewidth=2.0, zorder=4.2)
    draw_marks(ax, p["squares"], s=75, marker="s", color="black", edgecolor="black", linewidth=0.5, zorder=5)

    for label, cx, cy in p["cycles"]:
        ax.text(cx, cy, label, ha="center", va="center", fontsize=18.5, color="black", zorder=6)
    ax.text(0.970, 0.921, p["region"], transform=ax.transAxes, ha="right", va="baseline",
            fontsize=19, color="black", zorder=6)

    ax.set_xlim(*p["xlim"])
    ax.set_ylim(*p["ylim"])
    ax.set_title(p["title"], fontsize=18.5, pad=6.5, color="black")
    ax.set_xlabel("years", fontsize=19, labelpad=2, color="black")
    ax.set_ylabel("sunspot number", fontsize=19, labelpad=5, color="black")

    ax.xaxis.set_major_locator(MultipleLocator(5))
    ax.xaxis.set_minor_locator(MultipleLocator(1))
    ax.yaxis.set_major_locator(MultipleLocator(50))
    ax.yaxis.set_minor_locator(MultipleLocator(10))
    ax.tick_params(which="both", direction="out", width=1.0, color="black", labelcolor="black",
                   labelsize=16, top=False, right=False)
    ax.tick_params(which="major", length=7, pad=4)
    ax.tick_params(which="minor", length=4)
    for sp in ax.spines.values():
        sp.set_visible(True)
        sp.set_color("black")
        sp.set_linewidth(1.0)

    top = ax.secondary_xaxis("top")
    top.xaxis.set_major_locator(MultipleLocator(5))
    top.xaxis.set_minor_locator(MultipleLocator(1))
    top.xaxis.set_major_formatter(NullFormatter())
    top.tick_params(which="both", direction="in", width=1.0, color="black")
    top.tick_params(which="major", length=7)
    top.tick_params(which="minor", length=4)

    right = ax.secondary_yaxis("right")
    right.yaxis.set_major_locator(MultipleLocator(50))
    right.yaxis.set_minor_locator(MultipleLocator(10))
    right.yaxis.set_major_formatter(NullFormatter())
    right.tick_params(which="both", direction="in", width=1.0, color="black")
    right.tick_params(which="major", length=7)
    right.tick_params(which="minor", length=4)

# page border: dark band on top, navy gradient strips on the sides
edge_cmap = LinearSegmentedColormap.from_list(
    "edge", [(0.0, "#000000"), (0.45, "#03031c"), (1.0, "#2626bc")])
for r in ([0, 0, 9 / W, 1], [2000 / W, 0, 3 / W, 1]):
    cax = fig.add_axes(r)
    cax.imshow(np.linspace(0, 1, 256)[:, None], aspect="auto", cmap=edge_cmap)
    cax.set_axis_off()
tax = fig.add_axes([0, 1 - 5 / H, 1, 5 / H])
tax.set_facecolor("black")
tax.set_xticks([])
tax.set_yticks([])
for sp in tax.spines.values():
    sp.set_visible(False)

fig.savefig("out.png", dpi=100, facecolor="white")
